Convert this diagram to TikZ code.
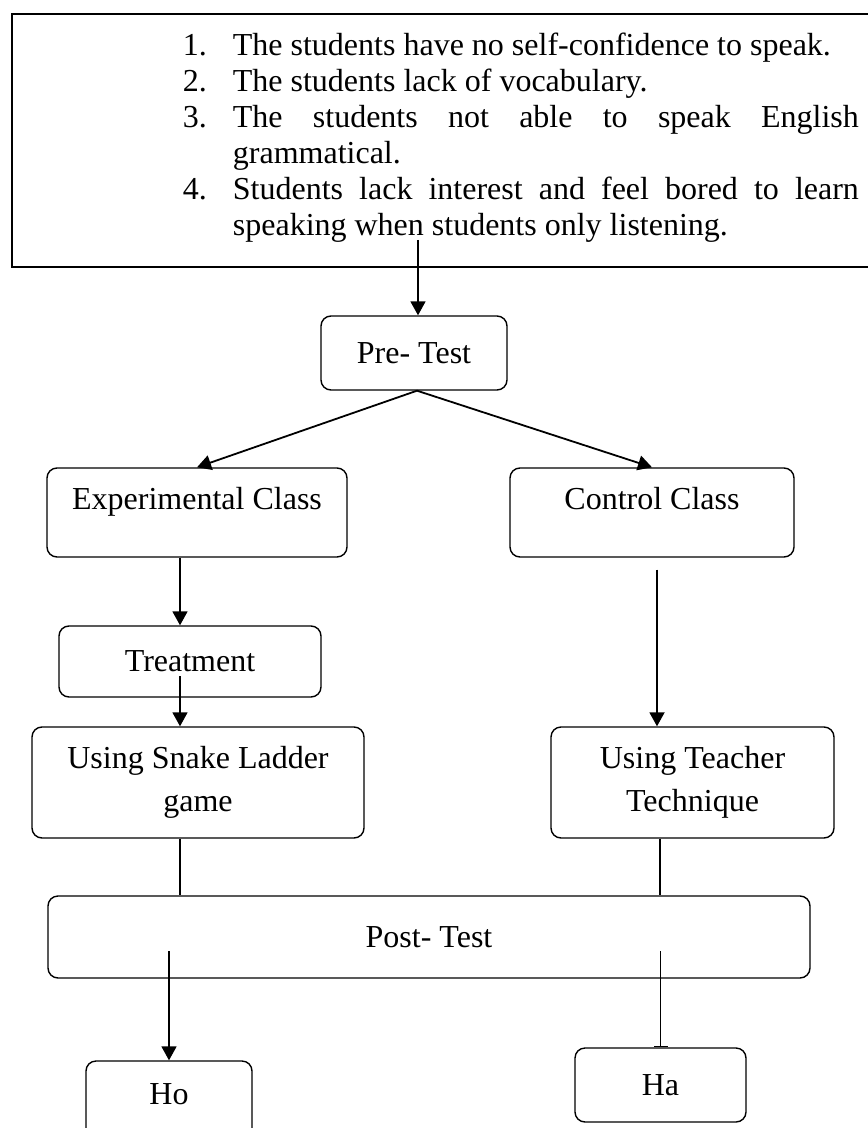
\documentclass[tikz,border=0pt]{standalone}
\usepackage{fontspec}
\setmainfont{Liberation Serif}
\usetikzlibrary{arrows.meta,positioning}

\newcommand{\probitem}[2]{\hangindent=25pt\hangafter=1\noindent\makebox[25pt][l]{#1}#2\par}

\begin{document}
\begin{tikzpicture}[
        x=0.5pt, y=-0.5pt,
        box/.style={draw, rounded corners=5pt, line width=0.7pt, align=center, inner sep=0pt},
        every node/.style={font=\fontsize{16pt}{18pt}\selectfont},
        >={Triangle[length=7pt,width=7.5pt]}, line width=0.9pt
      ]
      \useasboundingbox (0,0) rectangle (867,1128);
      \node[draw, line width=1pt, anchor=north west, minimum width=444.5pt, minimum height=126.5pt, inner sep=0pt] (problems) at (11,13) {};
      \node[anchor=north west, text width=338pt, inner sep=0pt, align=justify] (list) at (182,32) {%
        \probitem{1.}{The students have no self-confidence to speak.}
        \probitem{2.}{The students lack of vocabulary.}
        \probitem{3.}{The students not able to speak English\linebreak grammatical.}
        \probitem{4.}{Students lack interest and feel bored to learn\linebreak speaking when students only listening.}};
      \coordinate (listend) at (418,240);
      \node[box, minimum width=93pt, minimum height=37pt] (pretest) at (414,353) {Pre- Test};
      \node[box, minimum width=150pt, minimum height=44.5pt, text depth=14pt] (exp) at (197,512.5) {Experimental Class};
      \node[box, minimum width=142pt, minimum height=44.5pt, text depth=14pt] (control) at (652,512.5) {Control Class};
      \node[box, minimum width=131pt, minimum height=35.5pt] (treatment) at (190,661.5) {Treatment};
      \node[box, minimum width=166pt, minimum height=55.5pt] (snake) at (198,782.5) {Using Snake Ladder\\[3.5pt]game};
      \node[box, minimum width=141.5pt, minimum height=55.5pt] (teacher) at (692.5,782.5) {Using Teacher\\[3.5pt]Technique};
      \node[box, minimum width=381pt, minimum height=41pt] (post) at (429,937) {Post- Test};
      \node[box, minimum width=83pt, minimum height=39.5pt, text depth=6pt] (ho) at (169,1100.5) {Ho};
      \node[box, minimum width=85.5pt, minimum height=37pt] (ha) at (660.5,1085) {Ha};
      \coordinate (postlow) at ([yshift=-7pt]post.center);
      \draw[->] (listend) -- (listend |- pretest.north);
      \draw[->] ([xshift=1.5pt]pretest.south) -- (exp.north);
      \draw[->] ([xshift=1.5pt]pretest.south) -- (control.north);
      \draw[->] ([xshift=-8.5pt]exp.south) -- ([xshift=-8.5pt]exp.south |- treatment.north);
      \draw[->] ([xshift=-5pt,yshift=-7.25pt]treatment.center) -- ([xshift=-5pt]treatment.center |- snake.north);
      \draw[->] ([xshift=2.5pt,yshift=-6pt]control.south) -- ([xshift=2.5pt]control.south |- teacher.north);
      \draw ([xshift=-9pt]snake.south) -- ([xshift=-9pt]snake.south |- post.north);
      \draw ([xshift=-16.25pt]teacher.south) -- ([xshift=-16.25pt]teacher.south |- post.north);
      \draw[->] (postlow -| ho.north) -- (ho.north);
      \draw[-{Bar[width=7pt]}] (postlow -| ha.north) -- (ha.north);
    \end{tikzpicture}
\end{document}
